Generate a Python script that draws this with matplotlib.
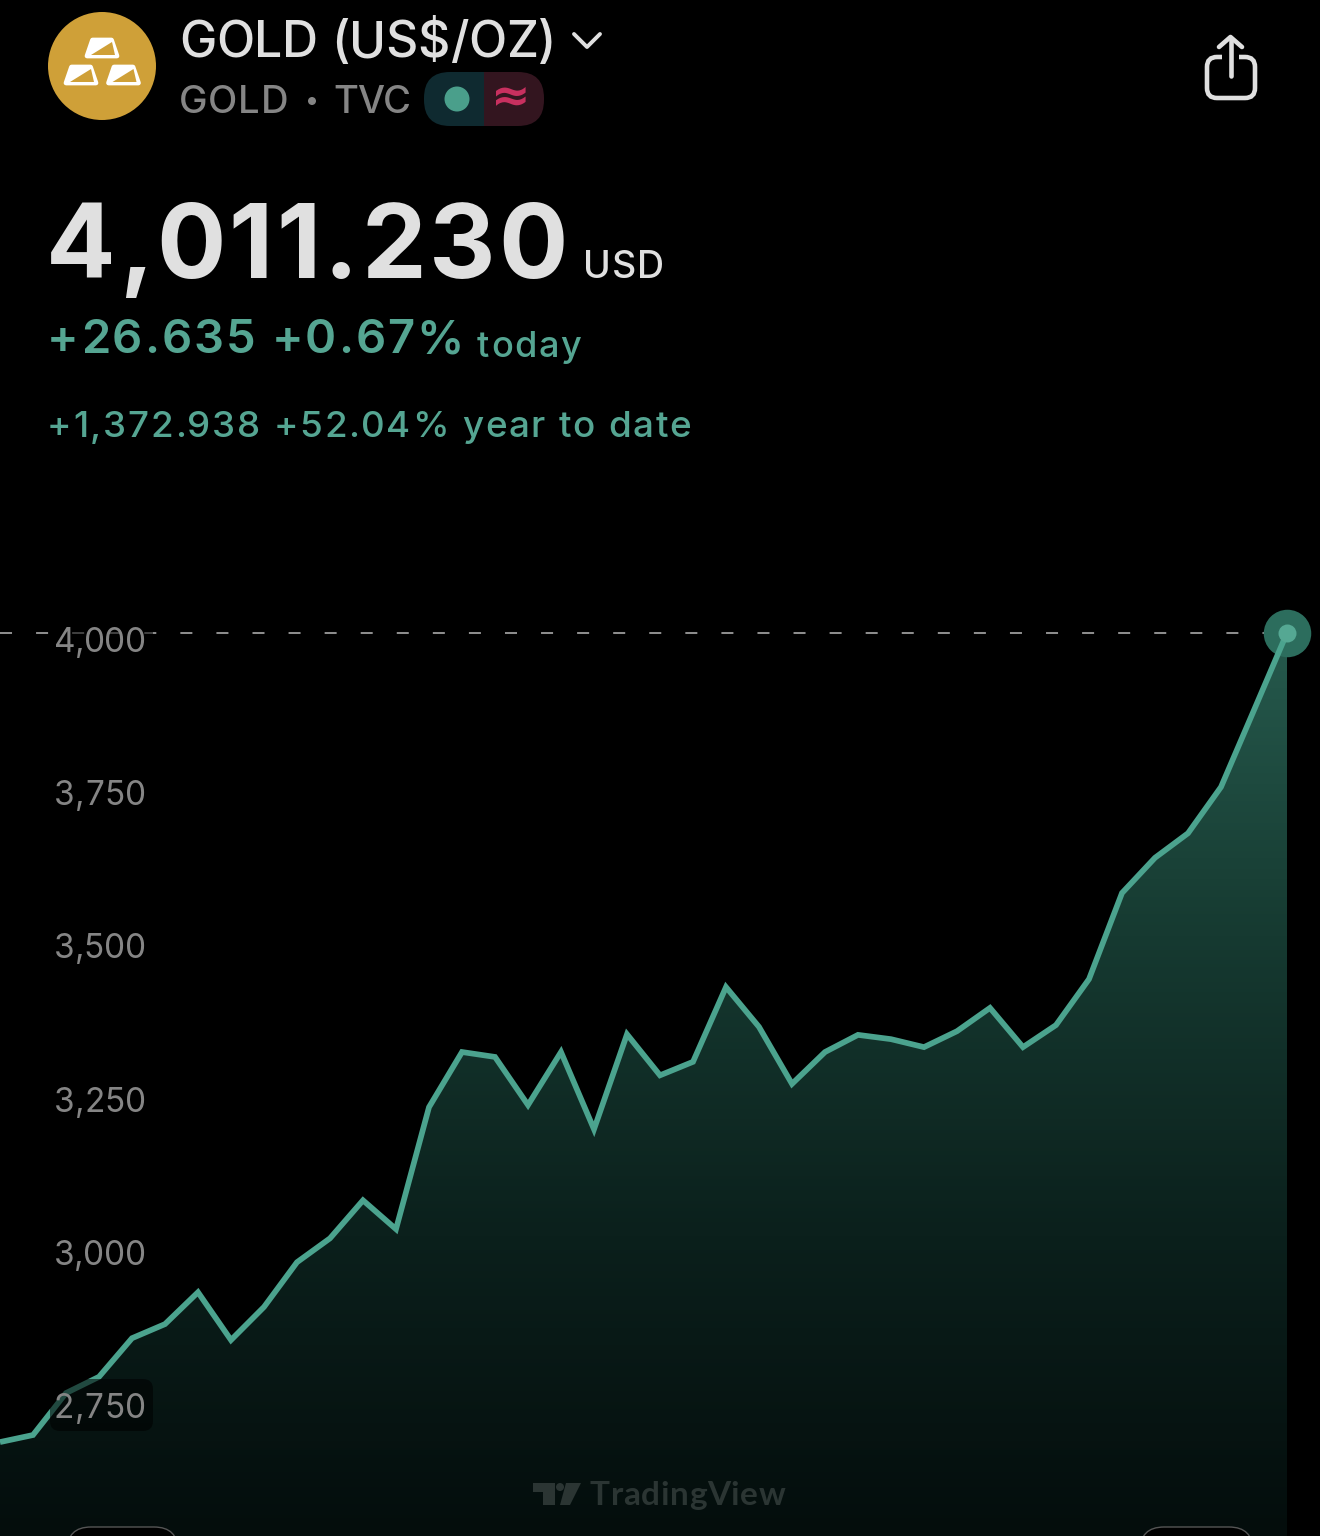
import numpy as np
import matplotlib
matplotlib.use("Agg")
import matplotlib.pyplot as plt
from matplotlib.patches import Circle, FancyBboxPatch, Polygon, Rectangle
from matplotlib.colors import LinearSegmentedColormap
from matplotlib.text import Text
from matplotlib.transforms import IdentityTransform

# ---------- data ----------
prices = [2689.5, 2701, 2769.5, 2796, 2859, 2882, 2934, 2856, 2910, 2983,
          3022, 3084, 3037, 3236, 3326, 3318, 3239.5, 3326, 3200, 3355,
          3288, 3310, 3432, 3367, 3274, 3326, 3354, 3347, 3334, 3360,
          3398, 3334, 3370, 3445, 3585.5, 3643, 3683, 3758.5, 3884, 4010]
y_ticks = [4000, 3750, 3500, 3250, 3000, 2750]
y_labels = ["4,000", "3,750", "3,500", "3,250", "3,000", "2,750"]
last_price = 4010

W, H = 1320, 1536
LINE = "#4ba38e"
GREEN_TXT = "#55a592"
WHITE = "#e0e0e0"
GREY = "#858585"
FONT = "Inter"


class FittedText(Text):
    """One text object whose letters are spaced to fill a given pixel width."""

    def __init__(self, *args, width_px=None, **kwargs):
        super().__init__(*args, **kwargs)
        self.width_px = width_px

    def draw(self, renderer):
        if not self.get_visible():
            return
        s = self.get_text()
        fp = self.get_fontproperties()
        measure = lambda t: renderer.get_text_width_height_descent(t + "|", fp, False)[0] - \
            renderer.get_text_width_height_descent("|", fp, False)[0]
        natural = measure(s)
        track = (self.width_px - natural) / max(len(s) - 1, 1)
        x0, y0 = self.get_transform().transform(self.get_position())
        for i, ch in enumerate(s):
            if ch == " ":
                continue
            px = x0 + measure(s[:i]) + i * track
            t = Text(px, y0, ch, color=self.get_color(), fontproperties=fp,
                     ha="left", va="baseline", transform=IdentityTransform())
            t.set_figure(self.get_figure())
            t.draw(renderer)


fig = plt.figure(figsize=(W / 100, H / 100), dpi=100, facecolor="black")

# data axes: scale calibrated so ticks land on the reference label rows
ax = fig.add_axes([0, 0, 1, 1], facecolor="black")
slope = 250 / 153.2
ymin = 4000 - (H - 639) * slope
ymax = 4000 + 639 * slope
ax.axis("off")
x = np.arange(len(prices))

# gradient area
cmap = LinearSegmentedColormap.from_list("a", ["#040d0c", "#0b201c", "#163a31", "#265a4d"])
grad = np.linspace(1, 0, 256).reshape(-1, 1)
im = ax.imshow(grad, extent=(0, x[-1], ymin, last_price), aspect="auto", cmap=cmap, zorder=1, vmin=0, vmax=1)
poly = Polygon(list(zip(x, prices)) + [(x[-1], ymin), (0, ymin)], closed=True,
               transform=ax.transData, fc="none", ec="none")
ax.add_patch(poly)
im.set_clip_path(poly)
ax.set_xlim(0, W / 33)
ax.set_ylim(ymin, ymax)

# last price dashed line
ax.plot([0, x[-1]], [last_price, last_price], color="#8c8c8c", lw=1.45, zorder=2,
        dashes=(12 / 2.01, 24 / 2.01), dash_capstyle="butt")

# series and end marker
ax.scatter([x[-1]], [last_price], s=(47.5 * 0.72) ** 2, color="#2c6d5d", zorder=3, linewidths=0)
ax.plot(x, prices, color=LINE, lw=4.1, zorder=4, solid_joinstyle="miter", solid_capstyle="butt")
ax.scatter([x[-1]], [last_price], s=(18 * 0.72) ** 2, color="#55a893", zorder=5, linewidths=0)

# overlay in pixel coordinates
ov = fig.add_axes([0, 0, 1, 1], facecolor="none")
ov.set_xlim(0, W)
ov.set_ylim(H, 0)
ov.axis("off")


def label(xp, yp, s, width, size, color, weight="normal", family=FONT, zorder=8):
    t = FittedText(xp, yp, s, width_px=width, color=color, fontsize=size, family=family,
                   weight=weight, ha="left", va="baseline", zorder=zorder,
                   transform=ov.transData)
    ov.add_artist(t)
    return t


# tick labels with dark translucent plate
for tv, lab in zip(y_ticks, y_labels):
    yp = 639 + (4000 - tv) / slope
    ov.add_patch(FancyBboxPatch((50, yp - 26), 103, 52, boxstyle="round,pad=0,rounding_size=10",
                                fc="black", ec="none", alpha=0.55, zorder=6))
    label(54, yp + 13, lab, 92, 24, "#858585", weight="normal", zorder=7)

# bottom tab outlines
for x0, x1 in [(67, 178), (1140, 1253)]:
    ov.add_patch(FancyBboxPatch((x0, 1527), x1 - x0, 40, boxstyle="round,pad=0,rounding_size=24",
                                fc="black", ec="#555555", lw=1, zorder=6))

# watermark
MARK = "#2b3533"
ov.add_patch(Polygon([(533, 1483), (555, 1483), (555, 1505), (543, 1505), (543, 1492), (533, 1492)],
                     fc=MARK, ec="none", zorder=6))
ov.add_patch(Circle((560, 1487), 4, fc=MARK, ec="none", zorder=6))
ov.add_patch(Polygon([(566, 1483), (581, 1483), (570, 1505), (560, 1505)], fc=MARK, ec="none", zorder=6))
label(590, 1505, "TradingView", 195, 24, MARK, weight="bold", family="Lato", zorder=6)

# header: gold badge
GOLD = "#cfa038"
ov.add_patch(Circle((102, 66), 54, fc=GOLD, ec="none"))


def bar(cx, cy):
    pts = [(cx - 9.5, cy - 8), (cx + 9.5, cy - 8), (cx + 15, cy + 8), (cx - 15, cy + 8)]
    ov.add_patch(Polygon(pts, closed=True, fc="white", ec="white", lw=3.4, joinstyle="round"))
    ov.add_patch(Polygon([(cx - 11, cy + 7), (cx + 10, cy - 6), (cx + 13, cy + 7)],
                         closed=True, fc=GOLD, ec="none"))


bar(102, 48)
bar(81, 75)
bar(123.5, 75)

label(179, 57, "GOLD (US$/OZ)", 377, 36, WHITE, weight="medium")
ov.plot([574, 587, 600], [34, 47, 34], color=WHITE, lw=2.8, solid_capstyle="round", solid_joinstyle="round")
label(179, 113, "GOLD", 109, 27.5, GREY, weight="medium")
ov.add_patch(Circle((312, 101), 4, fc=GREY, ec="none"))
label(333, 113, "TVC", 78, 27.5, GREY, weight="medium")

# status pill
pill = FancyBboxPatch((424, 72), 120, 54, boxstyle="round,pad=0,rounding_size=26", fc="none", ec="none")
ov.add_patch(pill)
l = Rectangle((424, 72), 60, 54, fc="#0f2a30", ec="none", zorder=2)
ov.add_patch(l)
l.set_clip_path(pill)
r = Rectangle((484, 72), 60, 54, fc="#33151f", ec="none", zorder=2)
ov.add_patch(r)
r.set_clip_path(pill)
ov.add_patch(Circle((457, 99), 12.5, fc="#4a9f8b", ec="none", zorder=3))
ov.text(511, 98, "\u2248", color="#c8305f", fontsize=34, family="DejaVu Sans", weight="bold",
        ha="center", va="center", zorder=3)

# share icon
ov.add_patch(FancyBboxPatch((1207, 57), 48, 41, boxstyle="round,pad=0,rounding_size=10", fc="none",
                            ec=WHITE, lw=3.3))
ov.add_patch(Rectangle((1222, 50), 17, 14, fc="black", ec="none", zorder=3))
ov.plot([1230.5, 1230.5], [38, 76], color=WHITE, lw=3.3, solid_capstyle="round", zorder=4)
ov.plot([1219, 1230.5, 1242], [47, 37, 47], color=WHITE, lw=3.3, solid_capstyle="round",
        solid_joinstyle="round", zorder=4)

# price block
label(46, 278, "4,011.230", 522, 74, WHITE, weight="bold")
label(583, 278, "USD", 81, 27, WHITE, weight="medium")
label(47, 353, "+26.635 +0.67%", 417, 34, GREEN_TXT, weight="semibold")
label(477, 357, "today", 104, 26, GREEN_TXT, weight="medium")
label(47, 437, "+1,372.938 +52.04% year to date", 644, 26.5, GREEN_TXT, weight="medium")

fig.savefig("out.png", dpi=100, facecolor="black")
